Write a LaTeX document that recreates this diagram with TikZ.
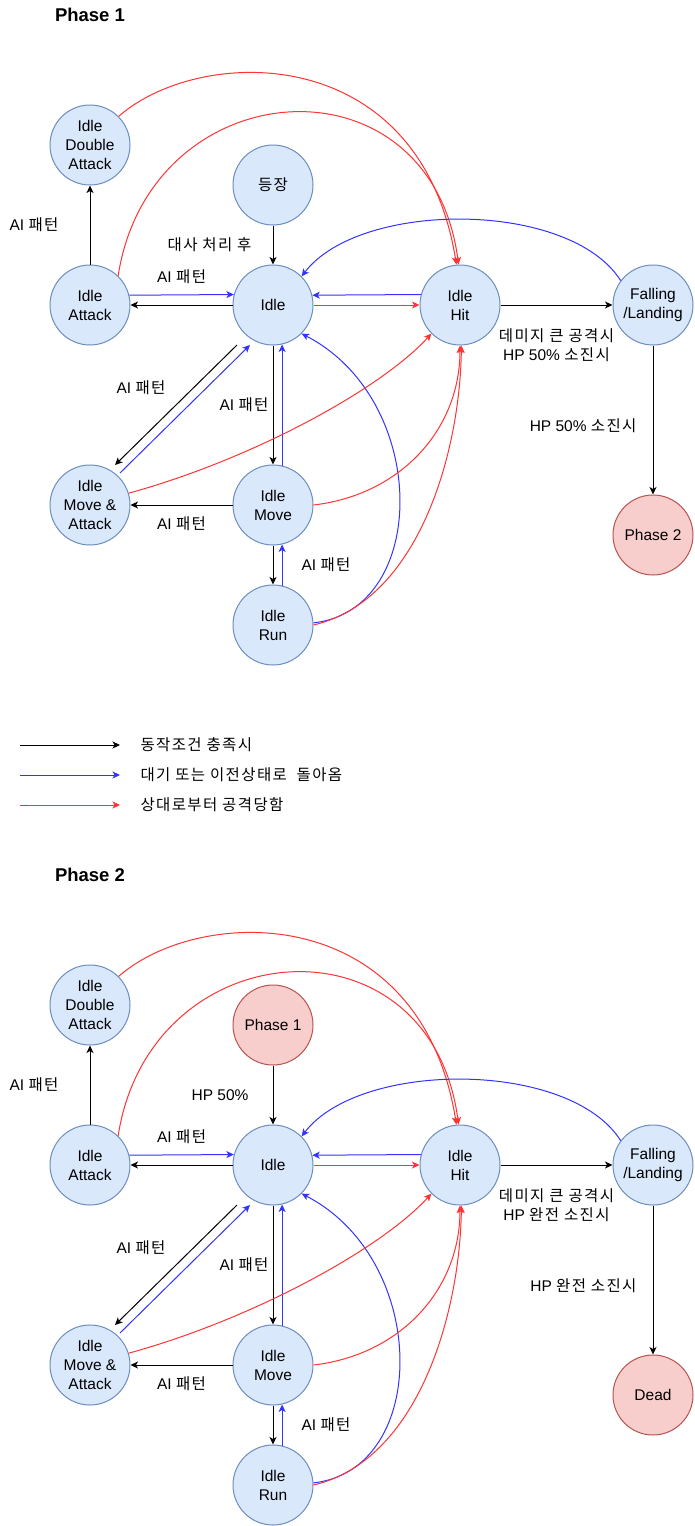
\documentclass[tikz,border=0pt]{standalone}
\usepackage{fontspec}
\setmainfont{Liberation Sans}
\newfontfamily\kr[LetterSpace=9]{Noto Sans CJK KR}
\usetikzlibrary{arrows.meta}

\definecolor{nodefill}{HTML}{DAE8FC}
\definecolor{nodeline}{HTML}{6C8EBF}
\definecolor{goalfill}{HTML}{F8CECC}
\definecolor{goalline}{HTML}{B85450}
\definecolor{backblue}{HTML}{3333FF}
\definecolor{hitred}{HTML}{FF3333}

\begin{document}
\begin{tikzpicture}[x=1pt,y=-1pt,node distance=183pt,
state/.style={
circle,
draw=nodeline,
fill=nodefill,
line width=1pt,
minimum size=80pt,
inner sep=0pt,
align=center,
font=\fontsize{15.5}{19}\selectfont
},
goal/.style={state,draw=goalline,fill=goalfill},
lbl/.style={inner sep=1pt,align=center,font=\fontsize{15.5}{19}\selectfont},
title/.style={inner sep=0pt,font=\fontsize{18.5}{22}\selectfont\bfseries},
go/.style={-{Stealth[length=7.5pt,width=7pt,inset=2pt]},line width=1pt},
back/.style={go,draw=backblue},
hitto/.style={go,draw=hitred}]

\useasboundingbox (0,0) rectangle (694,1526);

% Phase 1
\node (title1) [title] at (90,15) {Phase 1};
\node (idle) [state] at (273,305) {Idle};
\node (start) [state,above of=idle,node distance=120pt] {{\kr 등장}};
\node (attack) [state,left of=idle] {Idle\\Attack};
\node (double) [state,above of=attack,node distance=160pt] {Idle\\Double\\Attack};
\node (hit) [state,right of=idle,node distance=187pt] {Idle\\Hit};
\node (fall) [state,right of=hit,node distance=193pt] {Falling\\/Landing};
\node (next) [goal,below of=fall,node distance=230pt] {Phase 2};
\node (move) [state,below of=idle,node distance=200pt] {Idle\\Move};
\node (moveatk) [state,left of=move] {Idle\\Move \&\\Attack};
\node (run) [state,below of=move,node distance=120pt] {Idle\\Run};

\draw[go] (start) -- node[lbl,left=20pt] {\kr 대사 처리 후} (idle);
\draw[go] (idle) -- (attack);
\draw[back] (attack.14.5) -- node[lbl,above=10pt] {AI {\kr 패턴}} (idle.165.5);
\draw[go] (attack) -- node[lbl,left=30pt] {AI {\kr 패턴}} (double);
\draw[go] ([shift={(-36,40)}]idle.center) -- node[lbl,above left=9pt] {AI {\kr 패턴}} ([shift={(25,-40)}]moveatk.center);
\draw[back] ([shift={(30,-32)}]moveatk.center) -- ([shift={(-23,40)}]idle.center);
\draw[go] (idle) -- node[lbl,left=3pt] {AI {\kr 패턴}} (move);
\draw[back] (move.77) -- (idle.-77);
\draw[go] (move) -- node[lbl,below=10pt] {AI {\kr 패턴}} (moveatk);
\draw[go] (move) -- (run);
\draw[back] (run.77) -- node[lbl,right=18pt] {AI {\kr 패턴}} (move.-77);
\draw[back] (hit.165.5) -- (idle.14.5);
\draw[hitto] (idle) -- (hit);
\draw[go] (hit) -- node[lbl,below=22pt] {{\kr 데미지 큰 공격시}\\HP 50\% {\kr 소진시}} (fall);
\draw[go] (fall) -- node[lbl,left=15pt,pos=0.54] {HP 50\% {\kr 소진시}} (next);
\draw[hitto] (double.45) .. controls (200,45) and (420,40) .. (hit.95);
\draw[hitto] (attack.46) .. controls (150,70) and (430,50) .. (hit.92);
\draw[back] (fall.143) .. controls (570,200) and (360,200) .. (idle.45);
\draw[back] (run.3) .. controls (430,610) and (430,400) .. (idle.-45);
\draw[hitto] (moveatk.17) .. controls (250,460) and (380,390) .. (hit.225);
\draw[hitto] (move.0) .. controls (400,495) and (460,430) .. (hit.-90);
\draw[hitto] (run.0) .. controls (420,600) and (460,450) .. (hit.-88);

% legend
\coordinate (k1) at (20,745);
\coordinate (k1e) at (120,745);
\coordinate (k2) at (20,775);
\coordinate (k2e) at (120,775);
\coordinate (k3) at (20,805);
\coordinate (k3e) at (120,805);
\draw[go] (k1) -- (k1e) node (leg1) [lbl,right=19pt] {\kr 동작조건 충족시};
\draw[back] (k2) -- (k2e) node (leg2) [lbl,right=19pt] {\kr 대기 또는 이전상태로~ 돌아옴};
\draw[hitto] (k3) -- (k3e) node (leg3) [lbl,right=19pt] {\kr 상대로부터 공격당함};

% Phase 2
\begin{scope}[shift={(0,860)}]
\node (title2) [title] at (90,15) {Phase 2};
\node (idle2) [state] at (273,305) {Idle};
\node (prev) [goal,above of=idle2,node distance=140pt] {Phase 1};
\node (attack2) [state,left of=idle2] {Idle\\Attack};
\node (double2) [state,above of=attack2,node distance=160pt] {Idle\\Double\\Attack};
\node (hit2) [state,right of=idle2,node distance=187pt] {Idle\\Hit};
\node (fall2) [state,right of=hit2,node distance=193pt] {Falling\\/Landing};
\node (dead) [goal,below of=fall2,node distance=230pt] {Dead};
\node (move2) [state,below of=idle2,node distance=200pt] {Idle\\Move};
\node (moveatk2) [state,left of=move2] {Idle\\Move \&\\Attack};
\node (run2) [state,below of=move2,node distance=120pt] {Idle\\Run};

\draw[go] (prev) -- node[lbl,left=23pt] {HP 50\%} (idle2);
\draw[go] (idle2) -- (attack2);
\draw[back] (attack2.14.5) -- node[lbl,above=10pt] {AI {\kr 패턴}} (idle2.165.5);
\draw[go] (attack2) -- node[lbl,left=30pt] {AI {\kr 패턴}} (double2);
\draw[go] ([shift={(-36,40)}]idle2.center) -- node[lbl,above left=9pt] {AI {\kr 패턴}} ([shift={(25,-40)}]moveatk2.center);
\draw[back] ([shift={(30,-32)}]moveatk2.center) -- ([shift={(-23,40)}]idle2.center);
\draw[go] (idle2) -- node[lbl,left=3pt] {AI {\kr 패턴}} (move2);
\draw[back] (move2.77) -- (idle2.-77);
\draw[go] (move2) -- node[lbl,below=10pt] {AI {\kr 패턴}} (moveatk2);
\draw[go] (move2) -- (run2);
\draw[back] (run2.77) -- node[lbl,right=18pt] {AI {\kr 패턴}} (move2.-77);
\draw[back] (hit2.165.5) -- (idle2.14.5);
\draw[hitto] (idle2) -- (hit2);
\draw[go] (hit2) -- node[lbl,below=22pt] {{\kr 데미지 큰 공격시}\\HP {\kr 완전 소진시}} (fall2);
\draw[go] (fall2) -- node[lbl,left=15pt,pos=0.54] {HP {\kr 완전 소진시}} (dead);
\draw[hitto] (double2.45) .. controls (200,45) and (420,40) .. (hit2.95);
\draw[hitto] (attack2.46) .. controls (150,70) and (430,50) .. (hit2.92);
\draw[back] (fall2.143) .. controls (570,200) and (360,200) .. (idle2.45);
\draw[back] (run2.3) .. controls (430,610) and (430,400) .. (idle2.-45);
\draw[hitto] (moveatk2.17) .. controls (250,460) and (380,390) .. (hit2.225);
\draw[hitto] (move2.0) .. controls (400,495) and (460,430) .. (hit2.-90);
\draw[hitto] (run2.0) .. controls (420,600) and (460,450) .. (hit2.-88);
\end{scope}
\end{tikzpicture}
\end{document}
